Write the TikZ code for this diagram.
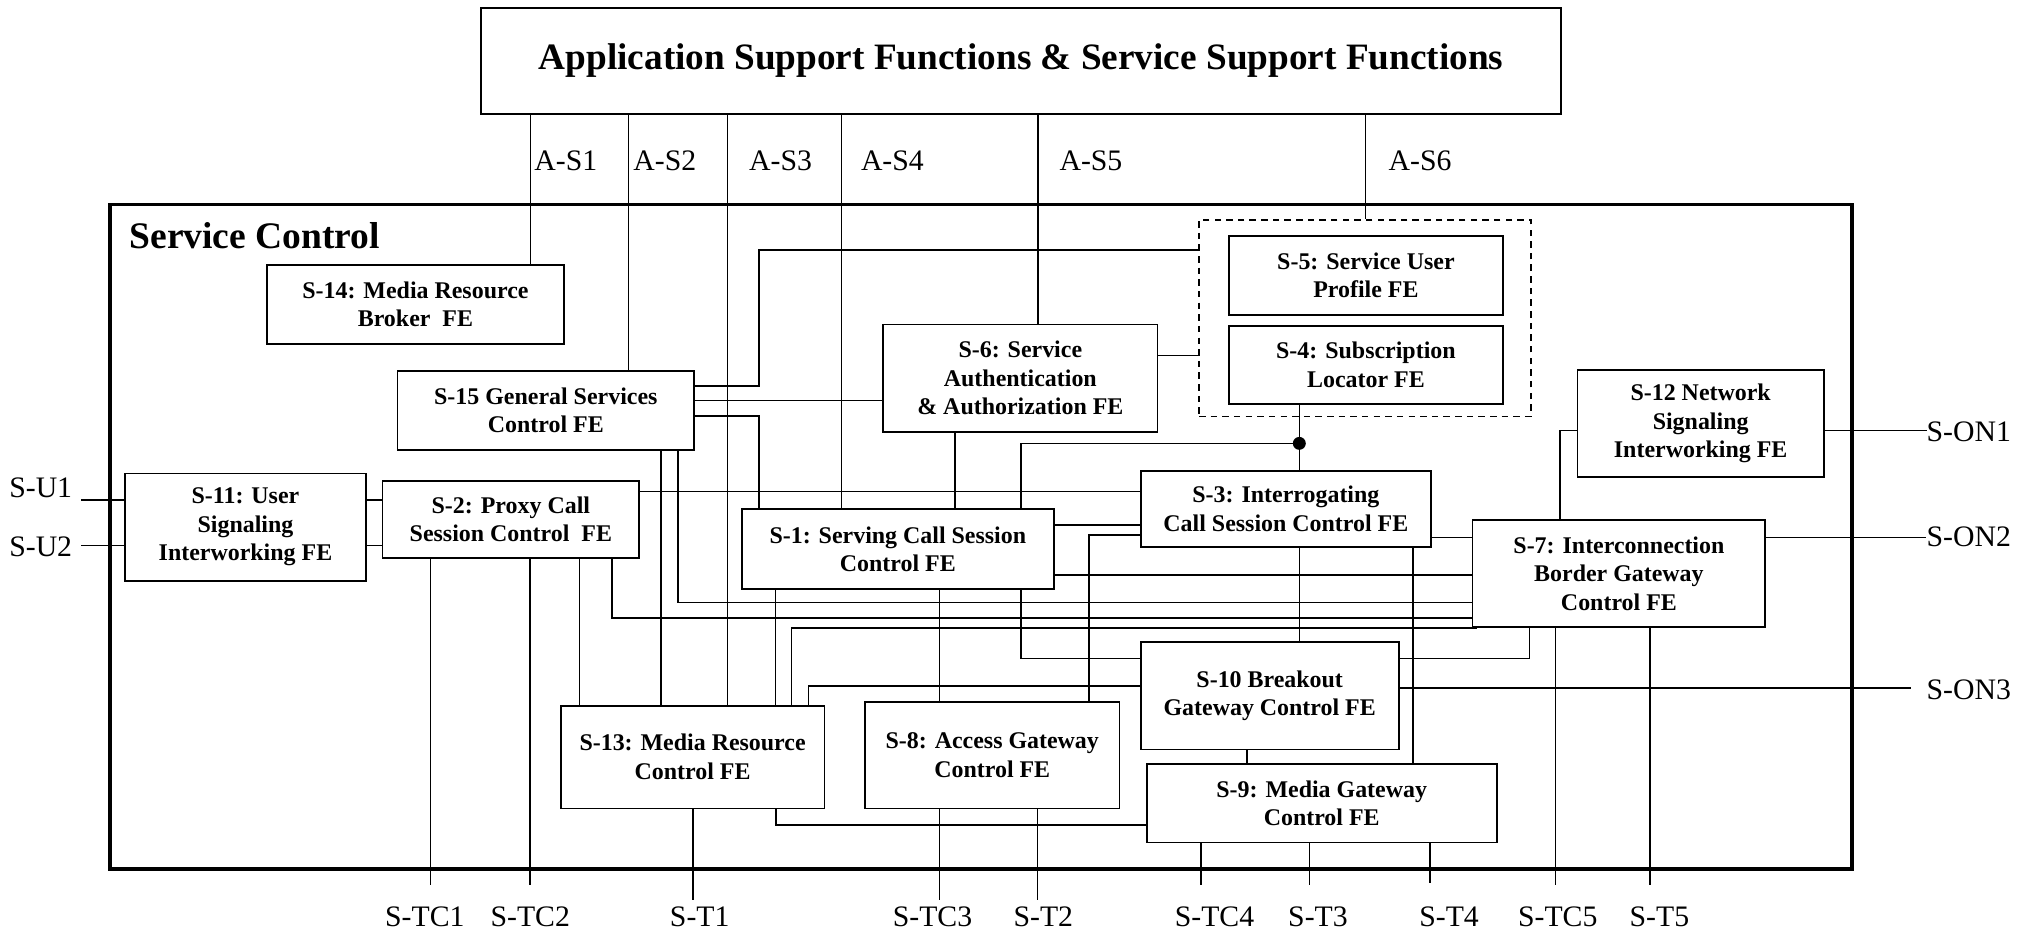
\documentclass[tikz,border=0pt]{standalone}
\usepackage{fontspec}
\setmainfont{Liberation Serif}
\begin{document}
\begin{tikzpicture}[x=1pt,y=-1pt,
  fe/.style={draw,line width=1.3pt,inner sep=0pt,align=center,font=\fontsize{18.5}{22}\selectfont\bfseries},
  conn/.style={line width=1.2pt},
  lab/.style={font=\fontsize{23}{26}\selectfont,inner sep=0pt},
]
\useasboundingbox (0,0) rectangle (1568,722);

% outer frames
\node[draw,line width=1.5pt,minimum width=835pt,minimum height=82pt,inner sep=0pt,
      font=\fontsize{28.8}{32}\selectfont\bfseries] (asf) at (789.5,47)
      {Application Support Functions \& Service Support Functions};
\node[draw,line width=2.6pt,minimum width=1347pt,minimum height=514pt,inner sep=0pt] (sc) at (758.5,415) {};
\node[anchor=base west,inner sep=0pt,font=\fontsize{29}{32}\selectfont\bfseries] (sclabel) at (100,192) {Service Control};

% functional entities
\node[fe,minimum width=229.5pt,minimum height=61pt] (s14) at (321.2,235.5) {S-14: Media Resource\\Broker\ \ FE};
\node[fe,minimum width=229.5pt,minimum height=61.2pt] (s15) at (422,317.4) {S-15 General Services\\Control FE};
\node[fe,minimum width=186.4pt,minimum height=83pt] (s11) at (189.8,407.5) {S-11: User\\Signaling\\Interworking FE};
\node[fe,minimum width=198.5pt,minimum height=59.2pt] (s2) at (395,401.6) {S-2: Proxy Call\\Session Control\ \ FE};
\node[fe,minimum width=212.3pt,minimum height=83pt] (s6) at (788.9,292.3) {S-6: Service\\Authentication\\\& Authorization FE};
\node[draw,line width=1.3pt,dash pattern=on 5pt off 4pt,minimum width=256.5pt,minimum height=152pt,inner sep=0pt] (su) at (1055.3,246) {};
\node[fe,minimum width=211.8pt,minimum height=61pt] (s5) at (1056.1,213) {S-5: Service User\\Profile FE};
\node[fe,minimum width=211.8pt,minimum height=60.6pt] (s4) at (1056.1,282.1) {S-4: Subscription\\Locator FE};
\node[fe,minimum width=190.3pt,minimum height=83pt] (s12) at (1314.9,327.5) {S-12 Network\\Signaling\\Interworking FE};
\node[fe,minimum width=224.5pt,minimum height=58.7pt] (s3) at (994.2,393.4) {S-3: Interrogating\\Call Session Control FE};
\node[fe,minimum width=241pt,minimum height=61.8pt] (s1) at (694.2,424.7) {S-1: Serving Call Session\\Control FE};
\node[fe,minimum width=226.2pt,minimum height=83pt] (s7) at (1251.7,443.5) {S-7: Interconnection\\Border Gateway\\Control FE};
\node[fe,minimum width=199.4pt,minimum height=82.8pt] (s10) at (981.7,538) {S-10 Breakout\\Gateway Control FE};
\node[fe,minimum width=204pt,minimum height=79.4pt] (s13) at (535.5,585.3) {S-13: Media Resource\\Control FE};
\node[fe,minimum width=196.5pt,minimum height=82.5pt] (s8) at (767.2,583.8) {S-8: Access Gateway\\Control FE};
\node[fe,minimum width=270.6pt,minimum height=60.8pt] (s9) at (1021.9,621.1) {S-9: Media Gateway\\Control FE};

% A-S reference points
\draw[conn] (asf.south -| 410,0) -- (s14.north -| 410,0);
\draw[conn] (asf.south -| 486,0) -- (s15.north -| 486,0);
\draw[conn] (asf.south -| 562.5,0) -- (s13.north -| 562.5,0);
\draw[conn] (asf.south -| 650.5,0) -- (s1.north -| 650.5,0);
\draw[conn] (asf.south -| 802.5,0) -- (s6.north -| 802.5,0);
\draw[conn] (asf.south -| 1055.8,0) -- (su.north -| 1055.8,0);
\node[lab,anchor=base west] (las1) at (413,132) {A-S1};
\node[lab,anchor=base west] (las2) at (489.5,132) {A-S2};
\node[lab,anchor=base west] (las3) at (579,132) {A-S3};
\node[lab,anchor=base west] (las4) at (665.5,132) {A-S4};
\node[lab,anchor=base west] (las5) at (819,132) {A-S5};
\node[lab,anchor=base west] (las6) at (1073.5,132) {A-S6};

% internal connectors
\draw[conn] (s15.east |- 0,298.4) -| (587,193.3) -- (su.west |- 0,193.3);
\draw[conn] (s15.east |- 0,309.8) -- (s6.west |- 0,309.8);
\draw[conn] (s15.east |- 0,321.6) -| (s1.north -| 587,0);
\draw[conn] (s6.east |- 0,275) -- (su.west |- 0,275);
\draw[conn] (s6.south -| 738.3,0) -- (s1.north -| 738.3,0);
\coordinate (dot) at (1004.6,342.8);
\draw[conn] (s4.south -| 1004.6,0) -- (s3.north -| 1004.6,0);
\fill (dot) circle[radius=5pt];
\draw[conn] (dot) -| (s1.north -| 789.3,0);
\draw[conn] (s11.east |- 0,386.6) -- (s2.west |- 0,386.6);
\draw[conn] (s11.east |- 0,421.9) -- (s2.west |- 0,421.9);
\draw[conn] (s2.east |- 0,380) -- (s3.west |- 0,380);
\draw[conn] (s1.east |- 0,406) -- (s3.west |- 0,406);
\draw[conn] (s3.west |- 0,413.7) -| (s8.north -| 842,0);
\draw[conn] (s3.east |- 0,415.5) -- (s7.west |- 0,415.5);
\draw[conn] (s1.east |- 0,444.6) -- (s7.west |- 0,444.6);
\draw[conn] (s15.south -| 524,0) |- (s7.west |- 0,466);
\draw[conn] (s2.south -| 473,0) |- (s7.west |- 0,477.7);
\draw[conn] (s13.north -| 612,0) |- ([xshift=4pt]s7.south west);
\draw[conn] (s2.south -| 448,0) -- (s13.north -| 448,0);
\draw[conn] (s15.south -| 511,0) -- (s13.north -| 511,0);
\draw[conn] (s1.south -| 599.7,0) -- (s13.north -| 599.7,0);
\draw[conn] (s13.north -| 625,0) |- (s10.west |- 0,530.4);
\draw[conn] (s1.south -| 789.3,0) |- (s10.west |- 0,509);
\draw[conn] (s1.south -| 726.5,0) -- (s8.north -| 726.5,0);
\draw[conn] (s3.south -| 1004.6,0) -- (s10.north -| 1004.6,0);
\draw[conn] (s3.south -| 1092.5,0) -- (s9.north -| 1092.5,0);
\draw[conn] (s7.south -| 1182.6,0) |- (s10.east |- 0,509);
\draw[conn] (s10.south -| 964,0) -- (s9.north -| 964,0);
\draw[conn] (s13.south -| 600,0) |- (s9.west |- 0,638);
\draw[conn] (s12.west |- 0,333) -| (s7.north -| 1206,0);

% S-U reference points
\coordinate (su1end) at (63,386.7);
\coordinate (su2end) at (63,421.7);
\draw[conn] (su1end) -- (s11.west |- su1end);
\draw[conn] (su2end) -- (s11.west |- su2end);
\node[lab,anchor=base west] (lsu1) at (7,385) {S-U1};
\node[lab,anchor=base west] (lsu2) at (7,430) {S-U2};

% S-ON reference points
\coordinate (son1end) at (1490,333);
\coordinate (son2end) at (1489,415.5);
\coordinate (son3end) at (1477.5,532);
\draw[conn] (s12.east |- son1end) -- (son1end);
\draw[conn] (s7.east |- son2end) -- (son2end);
\draw[conn] (s10.east |- son3end) -- (son3end);
\node[lab,anchor=base west] (lson1) at (1489.4,341.5) {S-ON1};
\node[lab,anchor=base west] (lson2) at (1489.4,422.7) {S-ON2};
\node[lab,anchor=base west] (lson3) at (1489.4,541.2) {S-ON3};

% bottom reference points
\coordinate (tc1) at (333,684);
\coordinate (tc2) at (409.7,684);
\coordinate (t1) at (536,696);
\coordinate (tc3) at (726.5,696);
\coordinate (t2) at (802,696);
\coordinate (tc4) at (928.6,684);
\coordinate (t3) at (1012.5,684);
\coordinate (t4) at (1105.7,683);
\coordinate (tc5) at (1202.7,684);
\coordinate (t5) at (1275.7,684);
\draw[conn] (s2.south -| tc1) -- (tc1);
\draw[conn] (s2.south -| tc2) -- (tc2);
\draw[conn] (s13.south -| t1) -- (t1);
\draw[conn] (s8.south -| tc3) -- (tc3);
\draw[conn] (s8.south -| t2) -- (t2);
\draw[conn] (s9.south -| tc4) -- (tc4);
\draw[conn] (s9.south -| t3) -- (t3);
\draw[conn] (s9.south -| t4) -- (t4);
\draw[conn] (s7.south -| tc5) -- (tc5);
\draw[conn] (s7.south -| t5) -- (t5);
\node[lab,anchor=base] (ltc1) at (328.5,716.5) {S-TC1};
\node[lab,anchor=base] (ltc2) at (410,716.5) {S-TC2};
\node[lab,anchor=base] (lt1) at (541,716.5) {S-T1};
\node[lab,anchor=base] (ltc3) at (721,716.5) {S-TC3};
\node[lab,anchor=base] (lt2) at (806.7,716.5) {S-T2};
\node[lab,anchor=base] (ltc4) at (939,716.5) {S-TC4};
\node[lab,anchor=base] (lt3) at (1019,716.5) {S-T3};
\node[lab,anchor=base] (lt4) at (1120.4,716.5) {S-T4};
\node[lab,anchor=base] (ltc5) at (1204.4,716.5) {S-TC5};
\node[lab,anchor=base] (lt5) at (1283,716.5) {S-T5};
\end{tikzpicture}
\end{document}
